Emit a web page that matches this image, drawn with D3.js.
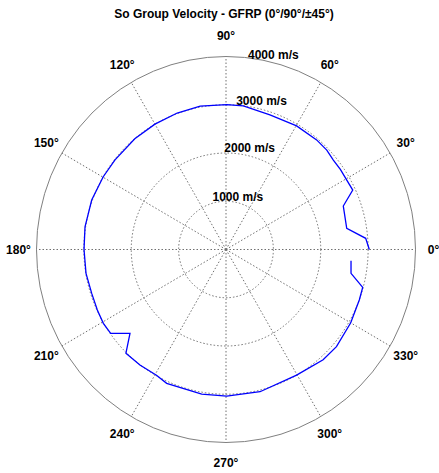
<!DOCTYPE html>
<html>
<head>
<meta charset="utf-8">
<script src="https://cdn.jsdelivr.net/npm/d3@7/dist/d3.min.js"></script>
<style>
  html, body { margin: 0; padding: 0; background: #fff; }
  svg { display: block; }
  text { font-family: "Liberation Sans", Arial, sans-serif; fill: #000; }
</style>
</head>
<body>
<svg id="chart" width="439" height="473"></svg>
<script>
const title = "So Group Velocity - GFRP (0°/90°/±45°)";
const angleTicks = [0, 30, 60, 90, 120, 150, 180, 210, 240, 270, 300, 330];
const angleLabels = ["0°", "30°", "60°", "90°", "120°", "150°", "180°", "210°", "240°", "270°", "300°", "330°"];
const radiusTicks = [1000, 2000, 3000, 4000];
const radiusLabels = ["1000 m/s", "2000 m/s", "3000 m/s", "4000 m/s"];

// Group velocity curve: angle (deg) and velocity (m/s)
const angles = [0, 4.5, 9.8, 20, 24.7, 34.5, 39.3, 44.1, 49.9, 59.8, 71.6, 83, 89.7, 100.4, 110, 120, 130, 141.6, 149.8, 160.1, 171, 180, 189.5, 197.8, 204.8, 210.6, 215.5, 220.6, 225.5, 232.8, 240.6, 245.7, 260.3, 270.3, 283.7, 299.8, 311.9, 319.2, 330, 339.6, 344.8, 349.4, 355];
const velocities = [3025, 2958, 2586, 2635, 2945, 2929, 2928, 2962, 2970, 2963, 2939, 2997, 3002, 3020, 3010, 3000, 2995, 2989, 2998, 3015, 3013, 2997, 2996, 2977, 2992, 3008, 2990, 2669, 3014, 3005, 2990, 3043, 3039, 3037, 3034, 2999, 3070, 3080, 3040, 3002, 2990, 2685, 2649];

const svg = d3.select("#chart");
const cx = 226, cy = 249.5;
const rX = d3.scaleLinear().domain([0, 4000]).range([0, 189.5]);
const rY = d3.scaleLinear().domain([0, 4000]).range([0, 193]);
const rad = d => d * Math.PI / 180;
const px = (a, v) => cx + rX(v) * Math.cos(rad(a));
const py = (a, v) => cy - rY(v) * Math.sin(rad(a));

const gridColor = "#707070";
const dash = "1.5,2";

// inner dotted circles
svg.append("g").selectAll("ellipse")
  .data(radiusTicks.slice(0, -1))
  .join("ellipse")
  .attr("cx", cx).attr("cy", cy)
  .attr("rx", d => rX(d)).attr("ry", d => rY(d))
  .attr("fill", "none").attr("stroke", gridColor)
  .attr("stroke-width", 1).attr("stroke-dasharray", dash);

// spokes
svg.append("g").selectAll("line")
  .data(angleTicks)
  .join("line")
  .attr("x1", cx).attr("y1", cy)
  .attr("x2", d => px(d, 4000)).attr("y2", d => py(d, 4000))
  .attr("stroke", gridColor).attr("stroke-width", 1)
  .attr("stroke-dasharray", dash);

// outer solid circle
svg.append("ellipse")
  .attr("cx", cx).attr("cy", cy)
  .attr("rx", rX(4000)).attr("ry", rY(4000))
  .attr("fill", "none").attr("stroke", "#808080").attr("stroke-width", 1);

// angle labels
svg.append("g").selectAll("text")
  .data(angleTicks)
  .join("text")
  .attr("x", d => cx + rX(4000) * 1.095 * Math.cos(rad(d)))
  .attr("y", d => cy - rY(4000) * 1.105 * Math.sin(rad(d)))
  .attr("text-anchor", "middle")
  .attr("dominant-baseline", "central")
  .style("font-size", "12px")
  .style("font-weight", "bold")
  .text((d, i) => angleLabels[i]);

// radius labels
svg.append("g").selectAll("text")
  .data(radiusTicks)
  .join("text")
  .attr("x", d => cx + rX(d) * 0.25)
  .attr("y", (d, i) => cy - rY(d) - [4, 5, 4, 1.5][i])
  .attr("text-anchor", "middle")
  .attr("dominant-baseline", "central")
  .style("font-size", "12px")
  .style("font-weight", "bold")
  .text((d, i) => radiusLabels[i]);

// data curve
const pts = angles.map((a, i) => ({a, v: velocities[i]}));
const line = d3.line().x(d => px(d.a, d.v)).y(d => py(d.a, d.v));
svg.append("path")
  .datum(pts)
  .attr("d", line)
  .attr("fill", "none")
  .attr("stroke", "#0000ff")
  .attr("stroke-width", 1.3);

// title
svg.append("text")
  .attr("x", 224).attr("y", 14)
  .attr("text-anchor", "middle")
  .attr("dominant-baseline", "central")
  .style("font-size", "12px")
  .style("font-weight", "bold")
  .text(title);
</script>
</body>
</html>
